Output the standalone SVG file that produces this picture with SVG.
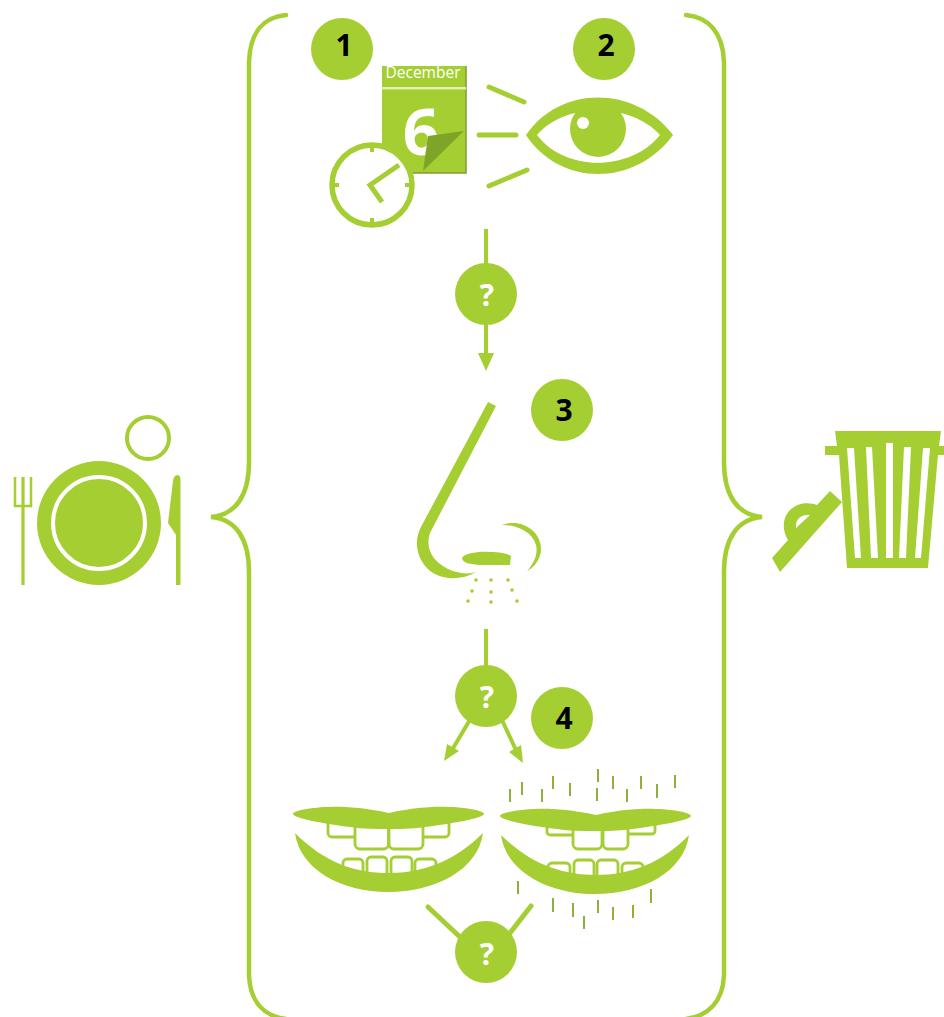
<svg xmlns="http://www.w3.org/2000/svg" width="944" height="1017" viewBox="0 0 944 1017">
<defs><style>
.g{fill:#a5ce33}
.w{fill:#fff}
.tooth{fill:#fff;stroke:#a5ce33;stroke-width:2.8}
.ln{fill:none;stroke:#a5ce33;stroke-width:5;stroke-linecap:round}
.sq{fill:none;stroke:#a5ce33;stroke-width:4}
.br{fill:none;stroke:#a5ce33;stroke-width:4.500;stroke-linecap:round}
.food{stroke:#8fb03a;stroke-width:2}
.num{font-family:"Open Sans","Liberation Sans",sans-serif;font-weight:700;font-size:30px;fill:#000;text-anchor:middle}
.q{font-family:"Open Sans","Liberation Sans",sans-serif;font-weight:700;font-size:30px;fill:#fff;text-anchor:middle}
</style>
<path id="upperLip" d="M293,814 C293,810 320,806 345,807 C365,808 380,811 389,813 C398,811 412,808 432,807 C458,806 484,810 484,814 C484,818 450,824 425,827 C410,829 400,829 389,829 C375,829 362,829 350,827 C325,824 293,818 293,814 Z"/>
</defs>
<rect width="944" height="1017" fill="#fff"/>

<g id="connectors">
<path class="br" d="M286,15 C264,17 250,32 249,62 V462 C249,495 236,515 211,517 C236,519 249,539 249,572 V975 C250,1002 264,1016 286,1019"/>
<path class="br" d="M686,15 C708,17 723,32 724,62 V462 C724,495 737,515 762,517 C737,519 724,539 724,572 V975 C723,1002 708,1016 686,1019"/>
<path class="ln" d="M489,87 L524,102"/>
<path class="ln" d="M479,135 H516"/>
<path class="ln" d="M489,186 L527,170"/>
<path class="sq" d="M486,229 V356"/>
<path class="g" d="M478,353 H494 L486,371 Z"/>
<path class="sq" d="M486,629 V670"/>
<path class="sq" d="M471,718 L452,750"/>
<path class="g" d="M444,761 L447,744 L459,751 Z"/>
<path class="sq" d="M501,718 L516,750"/>
<path class="g" d="M523,763 L509,752 L521,745 Z"/>
<path class="ln" d="M428,907 L460,937"/>
<path class="ln" d="M531,906 L510,933"/>
</g>

<g id="plate">
<circle class="g" cx="99" cy="523" r="62"/>
<circle cx="99" cy="523" r="46" fill="none" stroke="#fff" stroke-width="4"/>
<circle cx="148" cy="438" r="21" fill="none" stroke="#a5ce33" stroke-width="4"/>
<path d="M15,477 V506 H31 V477" fill="none" stroke="#a5ce33" stroke-width="2.500"/>
<path d="M23,477 V585" fill="none" stroke="#a5ce33" stroke-width="3.200"/>
<path class="g" d="M177,475 Q180.500,475 180.500,480 V585 H176 V535 L168,523 L173,481 Q173.500,476 177,475 Z"/>
</g>

<g id="bin">
<path class="g" d="M835,431 H941 L939,446 H944 V455 H938 L928,568 H847 L839,455 H825 V446 H837 Z"/>
<path class="w" d="M847,448 H854 L861,558 H855 Z M866,447 H872 L878,558 H871 Z M886,443 H893 V558 H886 Z M904,447 H911 L906,558 H899 Z M923,448 H930 L921,558 H915 Z"/>
<path class="g" d="M830,491 L842,502 L780,572 L772,558 L788,540 C782,530 782,518 790,510 C798,502 810,502 817,505 Z"/>
<path class="w" d="M796,528 C795,520 800,514 810,515 Z"/>
</g>

<g id="calendar">
<rect x="382" y="66" width="84" height="107" fill="#a5ce33"/>
<path d="M382,173 H466 V66" fill="none" stroke="#7f9f30" stroke-width="1.500"/>
<rect x="382" y="87" width="84" height="2.400" fill="#e3f0bd"/>
<text x="423" y="78" font-family="'Open Sans','Liberation Sans',sans-serif" font-size="15.500" fill="#fff" text-anchor="middle">December</text>
<text x="421" y="155" font-family="'Open Sans','Liberation Sans',sans-serif" font-weight="700" font-size="64" fill="#fff" text-anchor="middle">6</text>
<path d="M428,136 L464,131 L423,171 Z" fill="#7ea428"/>
<path d="M464,131 V172 H423 Z" fill="#a5ce33"/>
</g>

<g id="clock">
<circle cx="372" cy="185" r="40" fill="#fff" stroke="#a5ce33" stroke-width="5.500"/>
<path d="M372,146 V152 M372,218 V224 M333,185 H339 M405,185 H411" fill="none" stroke="#a5ce33" stroke-width="4"/>
<path d="M399,165 L370,185 L382,202" fill="none" stroke="#a5ce33" stroke-width="5"/>
</g>

<g id="eye">
<path class="g" d="M526,135 C560,85 635,85 673,135 C635,187 560,187 526,135 Z"/>
<path class="w" d="M537,135 C565,102 630,102 660,135 C630,172 565,172 537,135 Z"/>
<circle class="g" cx="598" cy="129" r="28"/>
<circle class="w" cx="583" cy="123" r="6"/>
</g>

<g id="badge1"><circle class="g" cx="342" cy="49" r="31"/><text class="num" x="344" y="56">1</text></g>
<g id="badge2"><circle class="g" cx="604" cy="49" r="31"/><text class="num" x="606" y="56">2</text></g>
<g id="badge3"><circle class="g" cx="562" cy="410" r="31"/><text class="num" x="564" y="421">3</text></g>
<g id="badge4"><circle class="g" cx="562" cy="718" r="31"/><text class="num" x="564" y="729">4</text></g>

<g id="question1"><circle class="g" cx="486" cy="294" r="31"/><text class="q" x="487" y="306">?</text></g>
<g id="question2"><circle class="g" cx="486" cy="696" r="31"/><text class="q" x="487" y="708">?</text></g>
<g id="question3"><circle class="g" cx="486" cy="952" r="31"/><text class="q" x="487" y="965">?</text></g>

<g id="nose">
<path class="g" d="M488,402 L496,406 L430,533 C425,548 432,563 453,571 C462,574 470,574 476,572 C462,580 444,581 430,571 C416,559 413,540 422,525 Z"/>
<path class="g" d="M462,558 C464,553 480,551 490,552 C500,552 509,554 511,556 L510,565 H483 C472,565 462,563 462,558 Z"/>
<path class="g" d="M502,525 C520,518 541,530 541,549 C541,558 535,567 527,571 C535,562 538,553 536,545 C532,532 518,525 502,525 Z"/>
<g class="g">
<circle cx="476" cy="580" r="1.800"/><circle cx="491" cy="580" r="1.800"/><circle cx="508" cy="580" r="1.800"/>
<circle cx="472" cy="591" r="1.800"/><circle cx="491" cy="592" r="1.800"/><circle cx="512" cy="590" r="1.800"/>
<circle cx="468" cy="601" r="1.800"/><circle cx="491" cy="602" r="1.800"/><circle cx="517" cy="601" r="1.800"/>
</g>
</g>

<g id="mouth1">
<rect class="tooth" x="328" y="815" width="30" height="22" rx="4"/>
<rect class="tooth" x="420" y="815" width="29" height="22" rx="4"/>
<rect class="tooth" x="355" y="818" width="33.500" height="31" rx="5"/>
<rect class="tooth" x="389" y="818" width="34" height="31" rx="5"/>
<rect class="tooth" x="343" y="859" width="20" height="20" rx="4"/>
<rect class="tooth" x="367" y="857" width="20" height="22" rx="4"/>
<rect class="tooth" x="391" y="857" width="21" height="22" rx="4"/>
<rect class="tooth" x="415" y="859" width="21" height="20" rx="4"/>
<use href="#upperLip" class="g"/>
<path class="g" d="M295,833 C325,863 355,873 389,873 C423,873 455,861 483,833 C478,870 435,892 388,892 C342,892 300,870 295,833 Z"/>
</g>

<g id="mouth2">
<rect class="tooth" x="547" y="820" width="30" height="15" rx="3"/>
<rect class="tooth" x="625" y="820" width="30" height="14" rx="3"/>
<rect class="tooth" x="573" y="820" width="29" height="29" rx="5"/>
<rect class="tooth" x="603" y="820" width="25" height="29" rx="5"/>
<rect class="tooth" x="548" y="863" width="22" height="18" rx="4"/>
<rect class="tooth" x="574" y="860" width="20" height="21" rx="4"/>
<rect class="tooth" x="597" y="860" width="21" height="21" rx="4"/>
<rect class="tooth" x="622" y="863" width="21" height="18" rx="4"/>
<use href="#upperLip" class="g" transform="translate(207,2)"/>
<path class="g" d="M501,835 C530,864 562,875 596,875 C630,875 662,863 689,835 C684,872 642,894 595,894 C549,894 506,872 501,835 Z"/>
<path class="food" d="M510,789 V802 M522,782 V795 M542,789 V802 M553,776 V789 M570,783 V796 M598,769 V782 M597,788 V801 M613,776 V789 M627,789 V802 M641,776 V789 M657,784 V798 M675,775 V788 M518,881 V894 M553,898 V912 M573,903 V917 M584,916 V929 M598,900 V913 M613,907 V920 M633,905 V918 M651,889 V903"/>
</g>
</svg>
